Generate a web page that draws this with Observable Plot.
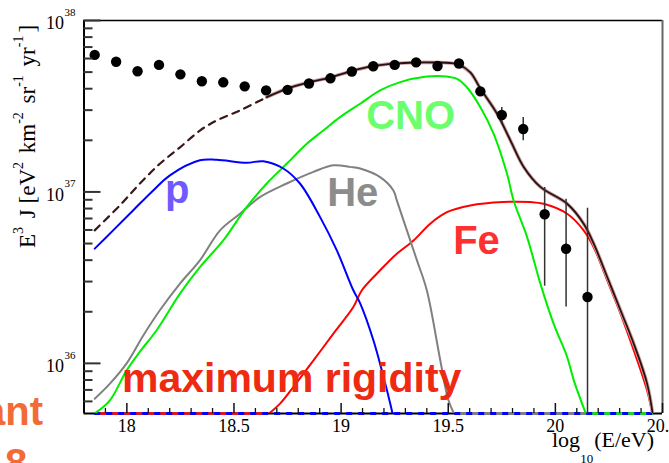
<!DOCTYPE html>
<html><head><meta charset="utf-8">
<script src="https://cdn.jsdelivr.net/npm/d3@7"></script>
<script src="https://cdn.jsdelivr.net/npm/@observablehq/plot@0.6"></script>
<style>html,body{margin:0;padding:0;background:#fff;overflow:hidden}svg{display:block}</style>
</head><body><div id="chart"></div>
<script>
// ---- measured spectrum (log10 E, E^3 J) ----
const dataX = [17.85,17.95,18.05,18.15,18.25,18.35,18.45,18.55,18.65,18.75,18.85,18.95,19.05,19.15,19.25,19.35,19.45,19.55,19.65,19.75,19.85,19.95,20.05,20.15];
const dataY = [6.30e37,5.75e37,5.06e37,5.51e37,4.85e37,4.42e37,4.36e37,4.13e37,3.91e37,3.94e37,4.29e37,4.60e37,5.04e37,5.41e37,5.51e37,5.70e37,5.43e37,5.61e37,3.86e37,2.81e37,2.33e37,7.41e36,4.66e36,2.44e36];
const errX  = [19.75,19.85,19.95,20.05,20.15];
const errLo = [2.54e37,1.99e37,2.82e36,2.13e36,1e35];
const errHi = [3.11e37,2.72e37,1.06e37,9.06e36,8.04e36];

// ---- model components ----
const pX = [17.850,17.936,18.029,18.123,18.201,18.341,18.419,18.559,18.637,18.730,18.808,18.902,18.980,19.057,19.089,19.151,19.214,19.250];
const pY = [4.67e36,5.97e36,7.80e36,1.02e37,1.25e37,1.53e37,1.54e37,1.48e37,1.51e37,1.37e37,1.12e37,7.13e36,4.56e36,2.67e36,2.24e36,1.36e36,6.96e35,4.5e35];
const heX = [17.850,17.921,17.999,18.076,18.154,18.248,18.341,18.435,18.528,18.621,18.746,18.871,18.964,19.042,19.089,19.182,19.244,19.260,19.307,19.354,19.400,19.463,19.501,19.545];
const heY = [6.22e35,7.62e35,1.00e36,1.45e36,2.04e36,2.92e36,3.99e36,5.97e36,7.46e36,9.33e36,1.12e37,1.31e37,1.43e37,1.40e37,1.37e37,1.22e37,1.02e37,8.92e36,5.97e36,3.99e36,2.67e36,1.04e36,6.09e35,4.6e35];
const cnoX = [17.850,17.921,17.999,18.061,18.139,18.248,18.341,18.450,18.559,18.653,18.746,18.840,18.917,18.995,19.089,19.182,19.276,19.400,19.494,19.541,19.587,19.650,19.712,19.774,19.805,19.868,19.930,19.992,20.055,20.086,20.153];
const cnoY = [5.11e35,6.09e35,9.10e35,1.17e36,1.56e36,2.55e36,3.64e36,5.21e36,8.15e36,1.12e37,1.46e37,1.91e37,2.28e37,2.73e37,3.27e37,3.91e37,4.37e37,4.71e37,4.71e37,4.57e37,4.08e37,3.12e37,2.18e37,1.28e37,8.92e36,5.45e36,2.92e36,1.70e36,1.09e36,7.96e35,4.7e35];
const feX = [18.655,18.715,18.777,18.871,18.964,19.057,19.097,19.182,19.260,19.338,19.416,19.494,19.603,19.758,19.883,19.945,20.055,20.132,20.179,20.242,20.304,20.366,20.428,20.458];
const feY = [5.0e35,5.82e35,7.28e35,1.04e36,1.49e36,2.13e36,2.67e36,3.49e36,4.36e36,5.21e36,6.53e36,7.62e36,8.34e36,8.73e36,8.73e36,8.53e36,7.46e36,5.97e36,4.76e36,3.05e36,1.95e36,1.19e36,6.96e35,4.7e35];
const totDashX = [17.850,17.967,18.061,18.154,18.248,18.341,18.419,18.528,18.653];
const totDashY = [5.97e36,8.34e36,1.12e37,1.46e37,1.82e37,2.28e37,2.61e37,2.99e37,3.57e37];
const totX = [18.653,18.748,18.846,18.949,19.051,19.150,19.248,19.346,19.449,19.509,19.548,19.603,19.650,19.728,19.790,19.852,19.930,20.055,20.132,20.179,20.242,20.304,20.366,20.428,20.458];
const totY = [3.57e37,4.01e37,4.35e37,4.65e37,5.08e37,5.43e37,5.61e37,5.69e37,5.69e37,5.65e37,5.54e37,4.98e37,4.01e37,2.86e37,2.00e37,1.40e37,1.07e37,8.53e36,6.53e36,4.99e36,3.19e36,2.04e36,1.30e36,7.62e35,4.7e35];

// segments lying on the lower limit
const floorComp = ["Fe","He","CNO"];
const floorX1 = [17.85,19.545,20.153];
const floorX2 = [18.655,20.458,20.458];
const floorDashX1 = 17.85, floorDashX2 = 20.458;

// ---- axes ----
const xDomain = [17.8, 20.5];
const yDomain = [5.1e35, 1e38];
const xMajor = [18,18.5,19,19.5,20,20.5];
const xMajorLabels = ["18","18.5","19","19.5","20","20.5"];
const xMinor = [17.9,18.1,18.2,18.3,18.4,18.6,18.7,18.8,18.9,19.1,19.2,19.3,19.4,19.6,19.7,19.8,19.9,20.1,20.2,20.3,20.4];
const yMajor = [1e36,1e37,1e38];
const yExpLabels = ["36","37","38"];
const yMinor = [6e35,7e35,8e35,9e35,2e36,3e36,4e36,5e36,6e36,7e36,8e36,9e36,2e37,3e37,4e37,5e37,6e37,7e37,8e37,9e37];

// ---- annotation labels ----
const labText = ["p","He","CNO","Fe","maximum rigidity"];
const labX = [18.178,18.935,19.117,19.523,17.977];
const labY = [1.02e37,9.78e36,2.78e37,5.18e36,8.15e35];
const labColor = ["#7059ff","#8c8c8c","#6cff6c","#ff3030","#ee2a12"];
const labSize = [40,40,40,40,41];
const labSpacing = [0,0,0,0,0.9];

const compColor = {p:"#0000ff", He:"#808080", CNO:"#00ee00", Fe:"#ff0000"};

const W = 669, H = 463, mL = 83.5, mR = 7, mT = 20, mB = 50;
const plotW = W - mL - mR, plotH = H - mT - mB;

const zip = (xs, ys) => xs.map((x, i) => ({x, y: ys[i]}));
const pts = zip(dataX, dataY);
const errs = errX.map((x, i) => ({x, lo: errLo[i], hi: errHi[i]}));
const floors = floorComp.map((c, i) => ({c, x1: floorX1[i], x2: floorX2[i]}));
const comp = (xs, ys, name) => Plot.line(zip(xs, ys), {x:"x", y:"y", curve:"catmull-rom", stroke: compColor[name], strokeWidth: 2, clip: true});
const labMarks = labText.map((t, i) => Plot.text([{t, x: labX[i], y: labY[i]}], {x:"x", y:"y", text:"t", fill: labColor[i], textAnchor:"start", lineAnchor:"middle", fontSize: labSize[i], fontWeight: "bold", fontFamily: "'Liberation Sans', Arial, sans-serif", letterSpacing: labSpacing[i]}));

const chart = Plot.plot({
  width: W, height: H,
  marginLeft: mL, marginRight: mR, marginTop: mT, marginBottom: mB,
  x: {domain: xDomain, axis: null},
  y: {type: "log", domain: yDomain, axis: null},
  style: {fontFamily: "'Liberation Serif', serif", fontSize: "18px", color: "black", background: "white", overflow: "visible"},
  marks: [
    // frame
    Plot.ruleY([yDomain[1]], {stroke: "black", strokeWidth: 1.5}),
    Plot.ruleX([xDomain[1]], {stroke: "#666", strokeWidth: 2}),
    Plot.ruleX([xDomain[0]], {stroke: "black", strokeWidth: 2}),
    Plot.ruleY([yDomain[0]], {stroke: "black", strokeWidth: 2}),
    // floor segments
    Plot.ruleY(floors, {y: yDomain[0], x1: "x1", x2: "x2", stroke: d => compColor[d.c], strokeWidth: 2.5}),
    Plot.ruleY([yDomain[0]], {x1: floorDashX1, x2: floorDashX2, stroke: "#0000ff", strokeWidth: 3, strokeDasharray: "6,6"}),
    // components
    comp(feX, feY, "Fe"),
    comp(heX, heY, "He"),
    comp(cnoX, cnoY, "CNO"),
    comp(pX, pY, "p"),
    Plot.line(zip(totDashX, totDashY), {x:"x", y:"y", curve:"catmull-rom", stroke:"#3a1818", strokeWidth: 2.2, strokeDasharray: "7,6", clip: true}),
    Plot.line(zip(totX, totY), {x:"x", y:"y", curve:"catmull-rom", stroke:"#c9a0a0", strokeWidth: 3.6, clip: true}),
    Plot.line(zip(totX, totY), {x:"x", y:"y", curve:"catmull-rom", stroke:"#2e1010", strokeWidth: 1.8, clip: true}),
    // data
    Plot.ruleX(errs, {x:"x", y1:"lo", y2:"hi", stroke:"#333", strokeWidth: 1.5, clip: true}),
    Plot.dot(pts, {x:"x", y:"y", r: 5.2, fill:"black", stroke: "none"}),
    // ticks
    Plot.tickX(xMajor, {x: d => d, stroke: "#111", strokeWidth: 1.5, insetTop: plotH - 10}),
    Plot.tickX(xMinor, {x: d => d, stroke: "#111", strokeWidth: 1.3, insetTop: plotH - 5}),
    Plot.tickY(yMajor, {y: d => d, stroke: "#333", strokeWidth: 2, insetRight: plotW - 17}),
    Plot.tickY(yMinor, {y: d => d, stroke: "#333", strokeWidth: 2, insetRight: plotW - 9}),
    // tick labels
    Plot.axisX({ticks: xMajor, tickSize: 0, tickPadding: 6, tickFormat: (d, i) => xMajorLabels[i], label: null, fontSize: 18}),
    Plot.axisY({ticks: yMajor, tickSize: 0, tickPadding: 20, tickFormat: () => "10", label: null, fontSize: 18, dy: 3}),
    Plot.text(yMajor, {y: d => d, text: (d, i) => yExpLabels[i], frameAnchor: "left", textAnchor: "start", dx: -19.5, dy: -8, fontSize: 11}),
    // annotations
    ...labMarks
  ]
});

const svg = d3.select(chart);
function rich(g, parts, size, subSize, shift, extra) {
  const t = g.append("text").attr("text-anchor", "start").attr("font-family", "'Liberation Serif', serif").attr("font-size", size).attr("fill", "black").style("white-space", "pre");
  let lvl = 0;
  parts.forEach(([s, l]) => {
    const ts = t.append("tspan").text(s).attr("font-size", l === 0 ? size : subSize);
    ts.attr("dy", (l - lvl) * shift);
    if (lvl !== 0 && l === 0) ts.attr("dx", extra);
    lvl = l;
  });
  return t;
}
// y title (rotated)
const gy = svg.append("g").attr("transform", "translate(35,248) rotate(-90)");
rich(gy, [["E",0],["3",-1],[" J [eV",0],["2",-1],[" km",0],["-2",-1],[" sr",0],["-1",-1],[" yr",0],["-1",-1],["]",0]], 23, 14, 12, 3);
// x title
const gx = svg.append("g").attr("transform", "translate(552,447)");
rich(gx, [["log",0],["10",1],["(E/eV)",0]], 22, 13, 16, 1);
// slide fragments at the left edge
svg.append("text").attr("x", 43).attr("y", 425).attr("text-anchor", "end").attr("font-family", "'Liberation Sans', Arial, sans-serif").attr("font-weight", "bold").attr("font-size", 40).attr("fill", "#f26a35").text("ant");
svg.append("text").attr("x", 5).attr("y", 477).attr("text-anchor", "start").attr("font-family", "'Liberation Sans', Arial, sans-serif").attr("font-weight", "bold").attr("font-size", 40).attr("fill", "#f26a35").text("8");

document.getElementById("chart").appendChild(chart);
</script>
</body></html>
